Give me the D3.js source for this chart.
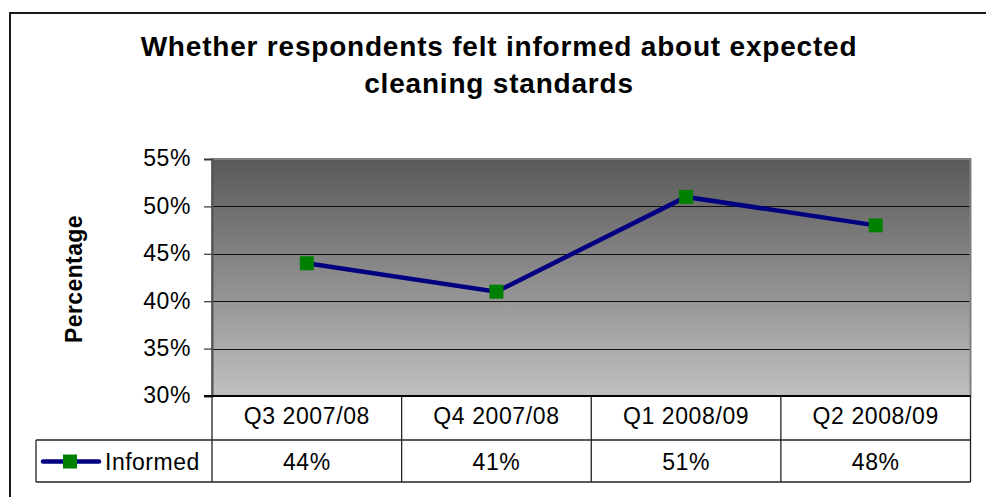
<!DOCTYPE html>
<html>
<head>
<meta charset="utf-8">
<script src="https://cdn.jsdelivr.net/npm/d3@7"></script>
<style>
  body { margin: 0; background: #fff; }
  svg text { font-family: "Liberation Sans", Arial, sans-serif; fill: #000; }
</style>
</head>
<body>
<svg id="chart" width="986" height="497"></svg>
<script>
let categories = ["Q3 2007/08", "Q4 2007/08", "Q1 2008/09", "Q2 2008/09"];
let informed = [44, 41, 51, 48];  // percent
let yTicks = [30, 35, 40, 45, 50, 55];
let seriesName = "Informed";
let titleLines = ["Whether respondents felt informed about expected", "cleaning standards"];

let svg = d3.select("#chart");

let plot = { left: 212, right: 970.5, top: 159, bottom: 396 };
let row1 = 440, row2 = 482, legendLeft = 36;

let x = d3.scaleBand()
          .domain(categories)
          .range([plot.left, plot.right]);
let y = d3.scaleLinear()
          .domain([30, 55])
          .range([plot.bottom, plot.top]);

// outer frame
svg.append("rect")
   .attr("x", 10).attr("y", 13)
   .attr("width", 1000).attr("height", 520)
   .attr("fill", "none")
   .attr("stroke", "#000")
   .attr("stroke-width", 1.8);

// title
svg.append("g")
   .selectAll("text")
   .data(titleLines)
   .enter()
   .append("text")
   .attr("x", 499)
   .attr("y", (d, i) => 56 + i * 37)
   .attr("text-anchor", "middle")
   .style("font-size", "28px")
   .style("font-weight", "bold")
   .style("letter-spacing", "0.8px")
   .text(d => d);

// background gradient
let grad = svg.append("defs").append("linearGradient")
              .attr("id", "bg")
              .attr("x1", 0).attr("y1", 0).attr("x2", 0).attr("y2", 1);
grad.append("stop").attr("offset", "0%").attr("stop-color", "#595959");
grad.append("stop").attr("offset", "100%").attr("stop-color", "#c0c0c0");

svg.append("rect")
   .attr("x", plot.left).attr("y", plot.top)
   .attr("width", plot.right - plot.left)
   .attr("height", plot.bottom - plot.top)
   .attr("fill", "url(#bg)")
   .attr("stroke", "#7f7f7f")
   .attr("stroke-width", 2);

// gridlines
svg.append("g")
   .selectAll("line")
   .data(yTicks.filter(t => t > 30 && t < 55))
   .enter()
   .append("line")
   .attr("x1", plot.left).attr("x2", plot.right - 1)
   .attr("y1", d => Math.round(y(d)) + 0.5)
   .attr("y2", d => Math.round(y(d)) + 0.5)
   .attr("stroke", "#111")
   .attr("stroke-width", 1.2);

// y axis
let yAxis = d3.axisLeft(y)
              .tickValues(yTicks)
              .tickSize(8)
              .tickPadding(13)
              .tickFormat(d => d + "%");
let ya = svg.append("g")
            .attr("transform", `translate(${plot.left},0)`)
            .call(yAxis);
ya.select(".domain").attr("stroke", "#555").attr("stroke-width", 2);
ya.selectAll(".tick line").attr("stroke", "#333").attr("stroke-width", 1.2);
ya.selectAll(".tick text")
  .attr("dy", "0.3em")
  .style("font-size", "23px")
  .style("font-family", "'Liberation Sans', Arial, sans-serif")
  .style("letter-spacing", "0.6px");

svg.append("text")
   .attr("transform", "translate(82,279) rotate(-90)")
   .attr("text-anchor", "middle")
   .style("font-size", "23px")
   .style("font-weight", "bold")
   .style("letter-spacing", "0.4px")
   .text("Percentage");

// data table
let table = svg.append("g").attr("stroke", "#222").attr("stroke-width", 1.3);
table.append("line")
     .attr("x1", plot.left - 8).attr("x2", plot.right)
     .attr("y1", plot.bottom).attr("y2", plot.bottom)
     .attr("stroke", "#000").attr("stroke-width", 1.8);
table.append("line")
     .attr("x1", legendLeft).attr("x2", plot.right)
     .attr("y1", row1).attr("y2", row1);
table.append("line")
     .attr("x1", legendLeft).attr("x2", plot.right)
     .attr("y1", row2).attr("y2", row2);
table.append("line")
     .attr("x1", legendLeft).attr("x2", legendLeft)
     .attr("y1", row1).attr("y2", row2);
table.selectAll(".vline")
     .data(categories.map(c => x(c)).concat([plot.right]))
     .enter()
     .append("line")
     .attr("class", "vline")
     .attr("x1", d => d).attr("x2", d => d)
     .attr("y1", plot.bottom).attr("y2", row2);

svg.append("g")
   .selectAll("text")
   .data(categories)
   .enter()
   .append("text")
   .attr("x", d => x(d) + x.bandwidth() / 2)
   .attr("y", 424)
   .attr("text-anchor", "middle")
   .style("font-size", "23px")
   .style("letter-spacing", "0.6px")
   .text(d => d);

svg.append("g")
   .selectAll("text")
   .data(informed)
   .enter()
   .append("text")
   .attr("x", (d, i) => x(categories[i]) + x.bandwidth() / 2)
   .attr("y", 470)
   .attr("text-anchor", "middle")
   .style("font-size", "23px")
   .style("letter-spacing", "0.6px")
   .text(d => d + "%");

// legend key
let ly = (row1 + row2) / 2 + 0.5;
svg.append("line")
   .attr("x1", 43).attr("x2", 99)
   .attr("y1", ly).attr("y2", ly)
   .attr("stroke", "#000080")
   .attr("stroke-width", 4.5)
   .attr("stroke-linecap", "round");
svg.append("rect")
   .attr("x", 63).attr("y", ly - 7)
   .attr("width", 14).attr("height", 14)
   .attr("fill", "#008000");
svg.append("text")
   .attr("x", 105).attr("y", 470)
   .style("font-size", "23px")
   .style("letter-spacing", "0.5px")
   .text(seriesName);

// series line
let line = d3.line()
             .x((d, i) => x(categories[i]) + x.bandwidth() / 2)
             .y(d => y(d));
svg.append("path")
   .datum(informed)
   .attr("d", line)
   .attr("fill", "none")
   .attr("stroke", "#000080")
   .attr("stroke-width", 4.5);

svg.append("g")
   .selectAll("rect")
   .data(informed)
   .enter()
   .append("rect")
   .attr("x", (d, i) => x(categories[i]) + x.bandwidth() / 2 - 7)
   .attr("y", d => y(d) - 7)
   .attr("width", 14).attr("height", 14)
   .attr("fill", "#008000");
</script>
</body>
</html>
